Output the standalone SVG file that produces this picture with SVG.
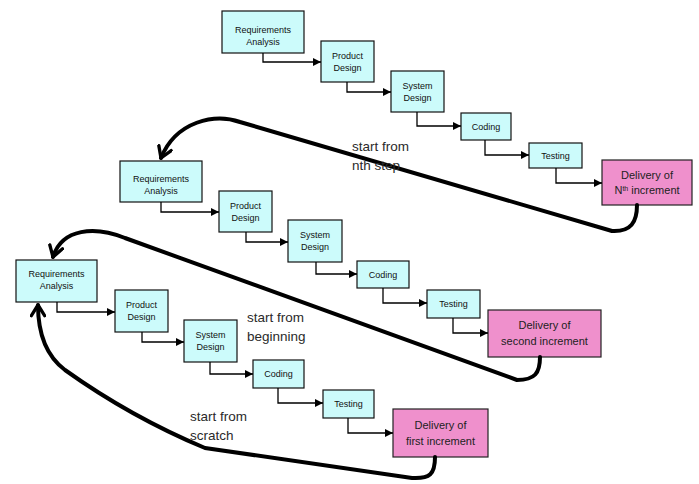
<svg xmlns="http://www.w3.org/2000/svg" width="699" height="484" viewBox="0 0 699 484">
<defs>
<style>
.step{fill:#ccfbfb;stroke:#111;stroke-width:1.2}
.del{fill:#ef90cc;stroke:#222;stroke-width:1.2}
.t{font-family:"Liberation Sans",Arial,sans-serif;font-size:9px;fill:#111;text-anchor:middle}
.td{font-family:"Liberation Sans",Arial,sans-serif;font-size:11px;fill:#222;text-anchor:middle}
.lbl{font-family:"Liberation Sans",Arial,sans-serif;font-size:13.5px;fill:#2a2a2a}
.c{fill:none;stroke:#000;stroke-width:1.3;marker-end:url(#ah)}
.big{fill:none;stroke:#000;stroke-width:4;stroke-linecap:round;stroke-linejoin:round;marker-end:url(#vh)}
</style>
<marker id="ah" viewBox="0 0 10 10" refX="10" refY="5" markerWidth="8" markerHeight="8" markerUnits="userSpaceOnUse" orient="auto">
<path d="M0,0 L10,5 L0,10 z" fill="#000"/>
</marker>
<marker id="vh" viewBox="0 0 12 12" refX="10" refY="6" markerWidth="4" markerHeight="4" orient="auto">
<path d="M2,1 L10,6 L2,11" fill="none" stroke="#000" stroke-width="2.5" stroke-linecap="round" stroke-linejoin="round"/>
</marker>
</defs>
<rect width="699" height="484" fill="#fff"/>

<!-- Increment N -->
<g id="n-req"><rect class="step" x="222" y="11" width="82" height="42"/><text class="t" x="263" y="33">Requirements</text><text class="t" x="263" y="45">Analysis</text></g>
<g id="n-prod"><rect class="step" x="321" y="41" width="53" height="41"/><text class="t" x="347.5" y="59">Product</text><text class="t" x="347.5" y="71">Design</text></g>
<g id="n-sys"><rect class="step" x="391" y="71" width="53" height="41"/><text class="t" x="417.5" y="89">System</text><text class="t" x="417.5" y="101">Design</text></g>
<g id="n-code"><rect class="step" x="461" y="113" width="50" height="27"/><text class="t" x="486" y="129.5">Coding</text></g>
<g id="n-test"><rect class="step" x="529" y="143" width="53" height="25"/><text class="t" x="555.5" y="158.5">Testing</text></g>
<g id="n-del"><rect class="del" x="602" y="160" width="90" height="45"/><text class="td" x="647" y="179">Delivery of</text><text class="td" x="647" y="194">N<tspan font-size="7" dy="-3">th</tspan><tspan dy="3"> increment</tspan></text></g>

<!-- Second increment -->
<g id="s-req"><rect class="step" x="120" y="161" width="82" height="41"/><text class="t" x="161" y="182">Requirements</text><text class="t" x="161" y="194">Analysis</text></g>
<g id="s-prod"><rect class="step" x="219" y="191" width="53" height="41"/><text class="t" x="245.5" y="209">Product</text><text class="t" x="245.5" y="221">Design</text></g>
<g id="s-sys"><rect class="step" x="288" y="220" width="54" height="42"/><text class="t" x="315" y="238">System</text><text class="t" x="315" y="250">Design</text></g>
<g id="s-code"><rect class="step" x="357" y="261" width="52" height="27"/><text class="t" x="383" y="277.5">Coding</text></g>
<g id="s-test"><rect class="step" x="427" y="290" width="53" height="28"/><text class="t" x="453.5" y="307">Testing</text></g>
<g id="s-del"><rect class="del" x="488" y="310" width="113" height="47"/><text class="td" x="544.5" y="329">Delivery of</text><text class="td" x="544.5" y="345">second increment</text></g>

<!-- First increment -->
<g id="f-req"><rect class="step" x="16" y="260" width="81" height="42"/><text class="t" x="56.5" y="277">Requirements</text><text class="t" x="56.5" y="289">Analysis</text></g>
<g id="f-prod"><rect class="step" x="115" y="290" width="53" height="42"/><text class="t" x="141.5" y="308">Product</text><text class="t" x="141.5" y="320">Design</text></g>
<g id="f-sys"><rect class="step" x="184" y="320" width="53" height="42"/><text class="t" x="210.5" y="338">System</text><text class="t" x="210.5" y="350">Design</text></g>
<g id="f-code"><rect class="step" x="253" y="360" width="51" height="28"/><text class="t" x="278.5" y="377">Coding</text></g>
<g id="f-test"><rect class="step" x="323" y="390" width="51" height="28"/><text class="t" x="348.5" y="407">Testing</text></g>
<g id="f-del"><rect class="del" x="393" y="409" width="95" height="48"/><text class="td" x="440.5" y="429">Delivery of</text><text class="td" x="440.5" y="445">first increment</text></g>

<g id="connectors">
<path class="c" d="M263,53 V62 H321"/>
<path class="c" d="M347,82 V92 H391"/>
<path class="c" d="M417,112 V126 H461"/>
<path class="c" d="M485,140 V155 H529"/>
<path class="c" d="M556,168 V183 H602"/>

<path class="c" d="M161,202 V212 H219"/>
<path class="c" d="M246,232 V242 H288"/>
<path class="c" d="M316,262 V274 H357"/>
<path class="c" d="M383,288 V303 H427"/>
<path class="c" d="M453,318 V333 H488"/>

<path class="c" d="M57,302 V312 H115"/>
<path class="c" d="M142,332 V342 H184"/>
<path class="c" d="M210,362 V374 H253"/>
<path class="c" d="M278,388 V403 H323"/>
<path class="c" d="M348,418 V433 H393"/>

<path class="big" d="M637,205 C637,222 631,232 612,231 L240,122 C215,113 176,121 161,158"/>
<path class="big" d="M540,357 C540,373 535,380 517,380 L125,238 C95,226 62,228 53,257"/>
<path class="big" d="M435,457 C435,474 430,479 412,478 L205,448 C150,425 100,395 65,370 C45,355 38,332 38,305"/>
</g>

<g id="labels">
<text class="lbl" x="352" y="151">start from</text>
<text class="lbl" x="352" y="170">nth step</text>
<text class="lbl" x="247" y="322">start from</text>
<text class="lbl" x="247" y="341">beginning</text>
<text class="lbl" x="190" y="421">start from</text>
<text class="lbl" x="190" y="440">scratch</text>
</g>
</svg>
